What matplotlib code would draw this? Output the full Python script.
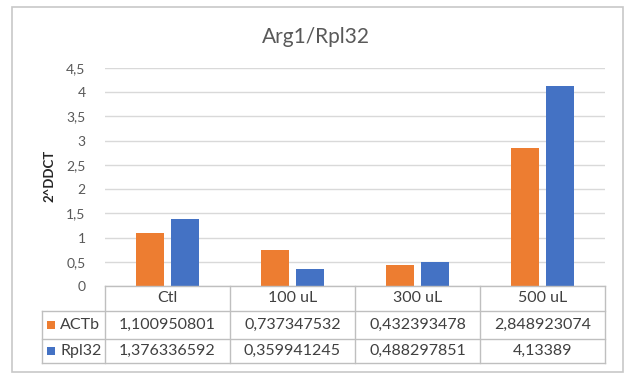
import matplotlib
matplotlib.use("Agg")
import matplotlib.pyplot as plt
import numpy as np
from matplotlib.lines import Line2D
from matplotlib.patches import Rectangle

# data
categories = ["Ctl", "100 uL", "300 uL", "500 uL"]
series_names = ["ACTb", "Rpl32"]
actb = [1.100950801, 0.737347532, 0.432393478, 2.848923074]
rpl32 = [1.376336592, 0.359941245, 0.488297851, 4.13389]
actb_txt = ["1,100950801", "0,737347532", "0,432393478", "2,848923074"]
rpl32_txt = ["1,376336592", "0,359941245", "0,488297851", "4,13389"]
yticks = [0, 0.5, 1, 1.5, 2, 2.5, 3, 3.5, 4, 4.5]

ORANGE = "#ED7D31"
BLUE = "#4472C4"
GRID = "#D9D9D9"
TEXT = "#595959"
W, H = 630, 374

plt.rcParams["font.family"] = ["Lato", "DejaVu Sans"]

fig = plt.figure(figsize=(W / 100, H / 100), dpi=100)


def fx(px):
    return px / W


def fy(py):
    return 1 - py / H


# plot area in pixel terms
left, right, top, bottom = 105, 605, 68, 286
ax = fig.add_axes([fx(left), fy(bottom), fx(right - left), fy(top) - fy(bottom)])

x = np.arange(len(categories))
bw = 0.225
ax.bar(x - 0.14, actb, bw, color=ORANGE, zorder=3)
ax.bar(x + 0.14, rpl32, bw, color=BLUE, zorder=3)

ax.set_xlim(-0.5, len(categories) - 0.5)
ax.set_ylim(0, 4.5)
ax.set_yticks(yticks)
ax.set_yticklabels([f"{t:g}".replace(".", ",") for t in yticks], color=TEXT, fontsize=10)
ax.tick_params(axis="y", length=0, pad=14)
ax.set_xticks([])
ax.yaxis.grid(True, color=GRID, linewidth=1)
ax.set_axisbelow(True)
for s in ax.spines.values():
    s.set_visible(False)

fig.text(fx(316), fy(37), "Arg1/Rpl32", ha="center", va="center", fontsize=15, color=TEXT)
fig.text(fx(49), fy(176), "2^DDCT", ha="center", va="center", rotation=90,
         fontsize=9.5, fontweight="bold", color="#262626")

# outer chart border
fig.add_artist(Rectangle((fx(12), fy(372)), fx(611), fy(7) - fy(372),
                         fill=False, edgecolor="#C8C8C8", linewidth=1.2))

# data table below the axis
col_x = [105, 230, 355, 480, 605]
row_y = [286, 311, 338.5, 363]
lbl_left = 42
lc = "#BFBFBF"


def hline(y, x0, x1):
    fig.add_artist(Line2D([fx(x0), fx(x1)], [fy(y), fy(y)], color=lc, linewidth=1))


def vline(xp, y0, y1):
    fig.add_artist(Line2D([fx(xp), fx(xp)], [fy(y0), fy(y1)], color=lc, linewidth=1))


hline(row_y[0], col_x[0], col_x[-1])
for yy in row_y[1:]:
    hline(yy, lbl_left, col_x[-1])
vline(lbl_left, row_y[1], row_y[-1])
for xp in col_x:
    vline(xp, row_y[0], row_y[-1])

fs = 11.5
tc = "#404040"
for i, cat in enumerate(categories):
    cx = (col_x[i] + col_x[i + 1]) / 2
    fig.text(fx(cx), fy((row_y[0] + row_y[1]) / 2), cat, ha="center", va="center",
             fontsize=fs, color=tc)
    fig.text(fx(cx), fy((row_y[1] + row_y[2]) / 2), actb_txt[i], ha="center", va="center",
             fontsize=fs, color=tc)
    fig.text(fx(cx), fy((row_y[2] + row_y[3]) / 2), rpl32_txt[i], ha="center", va="center",
             fontsize=fs, color=tc)

for j, (name, col) in enumerate(zip(series_names, [ORANGE, BLUE])):
    yc = (row_y[j + 1] + row_y[j + 2]) / 2
    fig.add_artist(Rectangle((fx(47), fy(yc + 4)), fx(8), fy(yc - 4) - fy(yc + 4),
                             facecolor=col, edgecolor="none"))
    fig.text(fx(60), fy(yc), name, ha="left", va="center", fontsize=fs, color=tc)

fig.savefig("out.png", dpi=100, facecolor="white")
